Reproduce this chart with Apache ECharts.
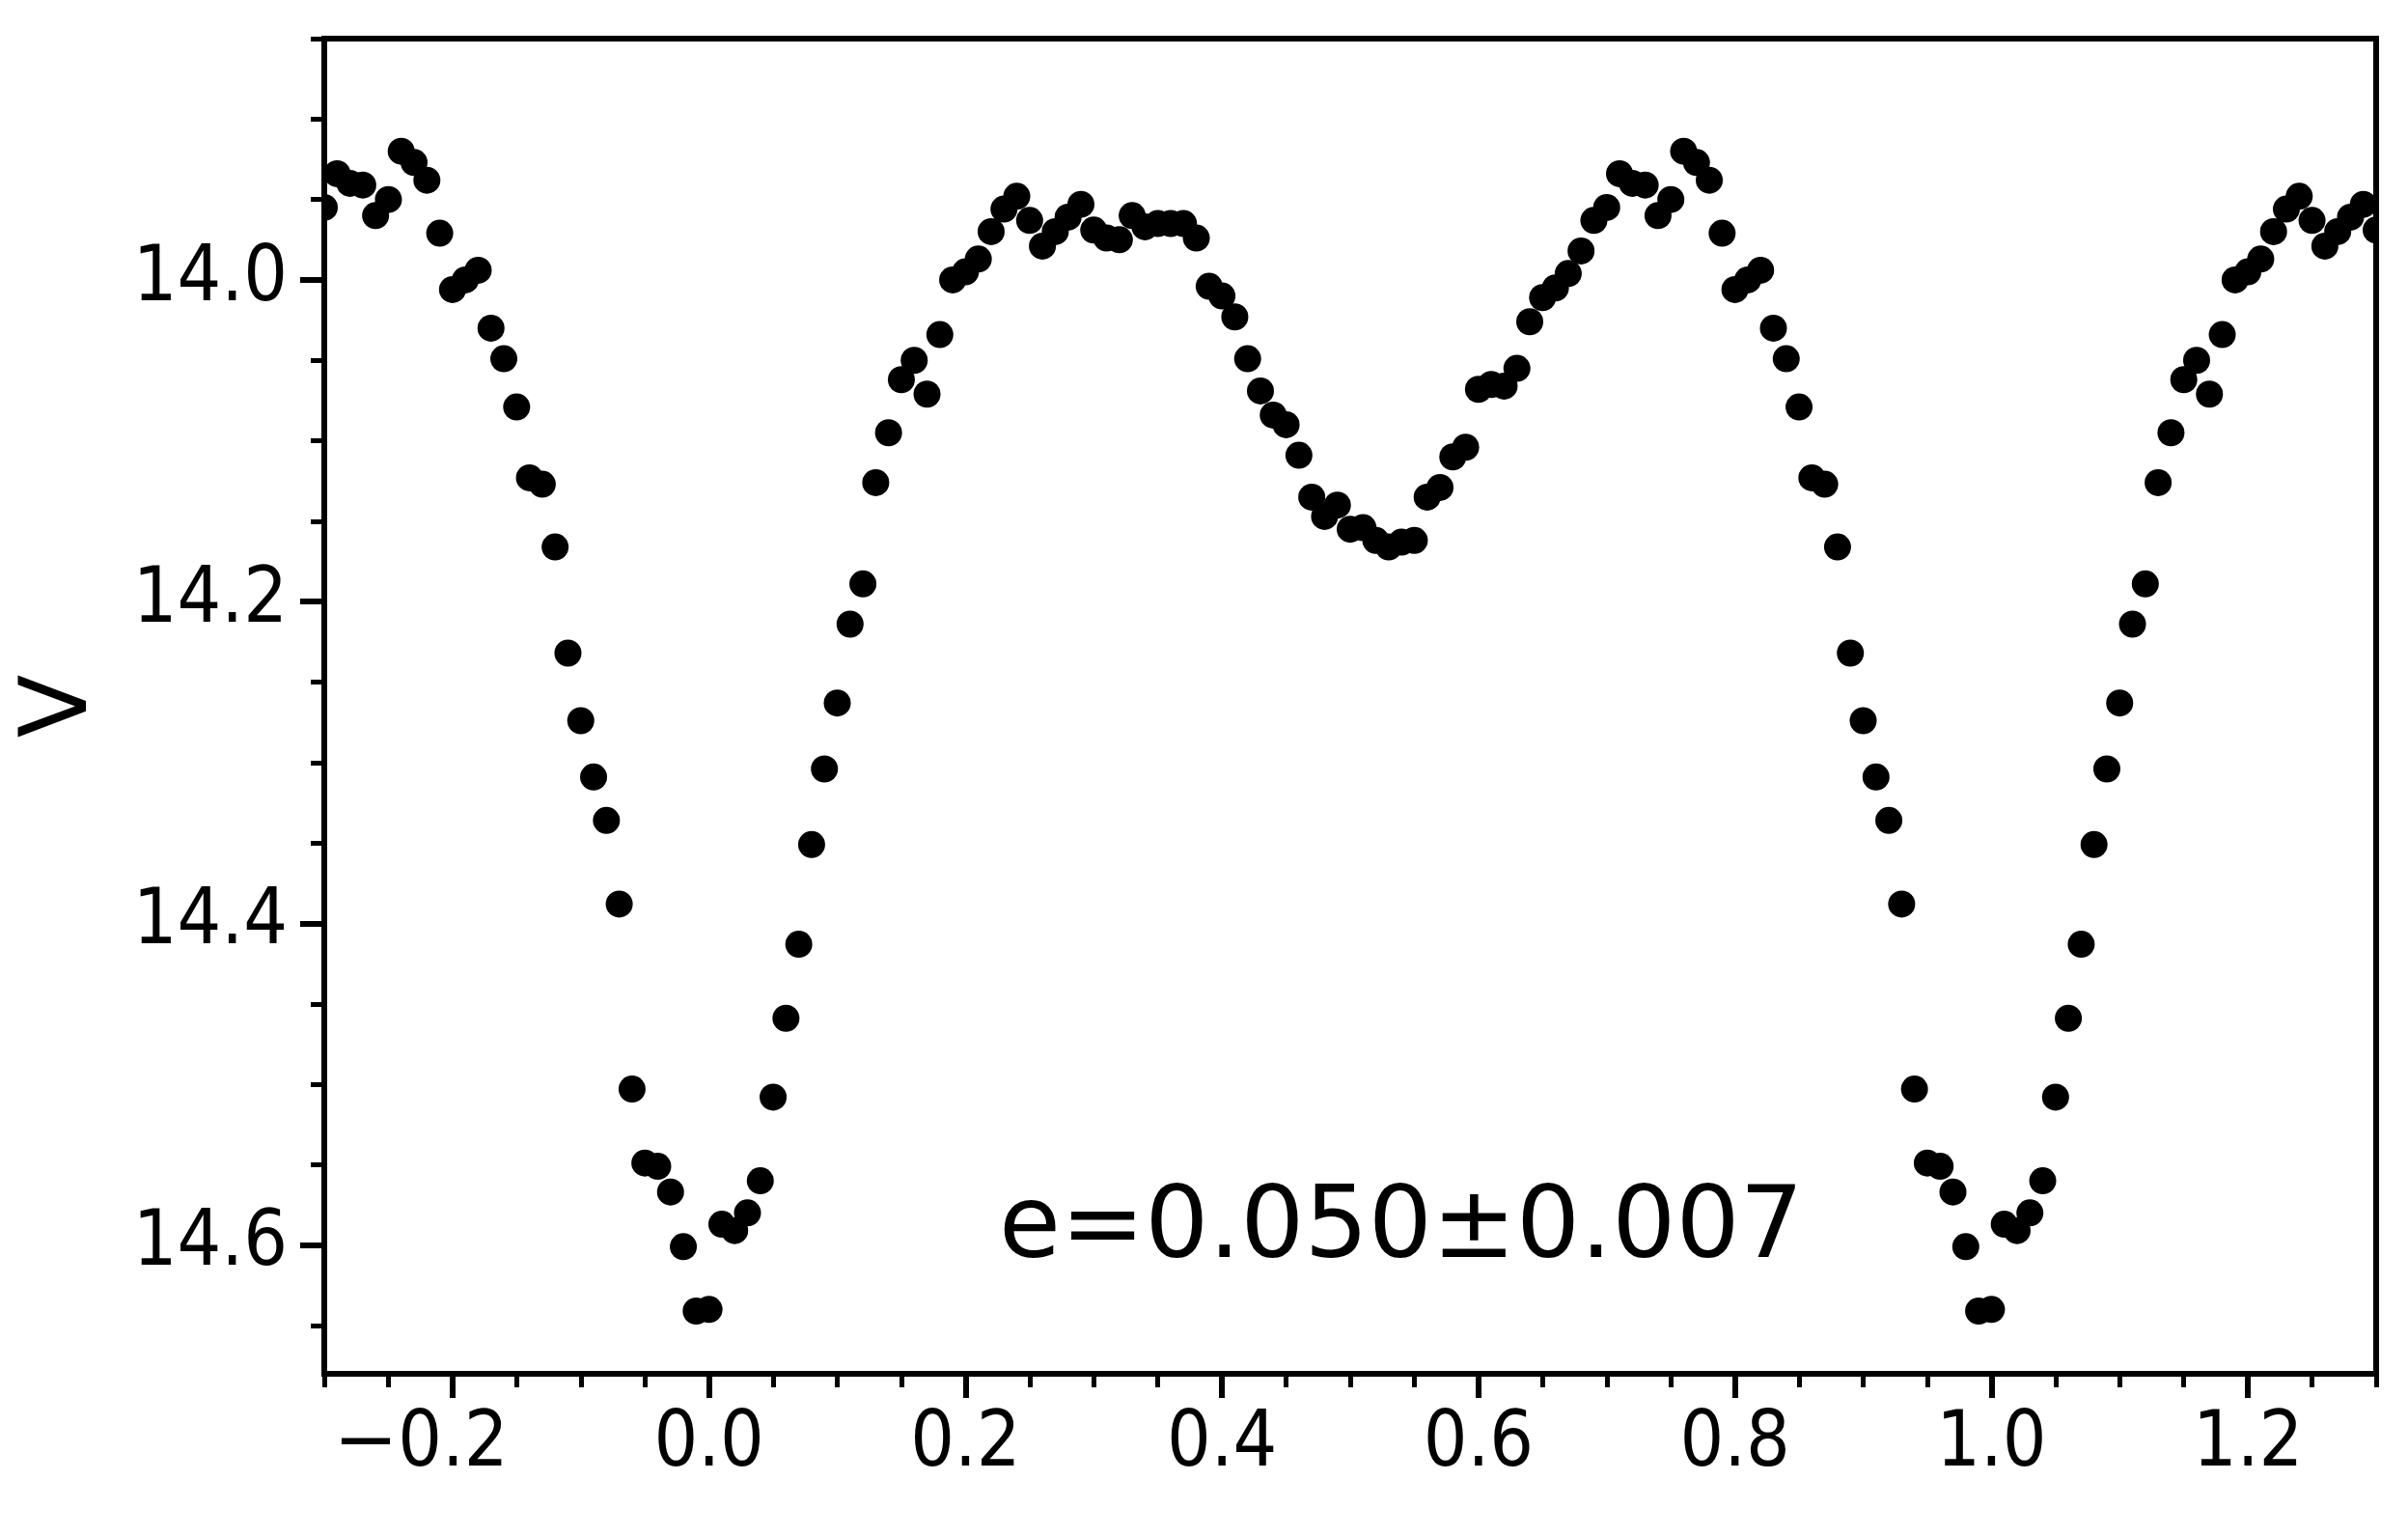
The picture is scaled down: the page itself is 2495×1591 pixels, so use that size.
<!DOCTYPE html>
<html>
<head>
<meta charset="utf-8">
<script src="https://cdn.jsdelivr.net/npm/echarts@6/dist/echarts.min.js"></script>
<style>
  html, body { margin: 0; padding: 0; background: #fff; }
  #chart { width: 2495px; height: 1591px; }
</style>
</head>
<body>
<div id="chart"></div>
<script>
// ---- data (orbital phase vs V magnitude) ----
const phase = [
  -0.30,-0.29,-0.28,-0.27,-0.26,-0.25,-0.24,-0.23,-0.22,-0.21,
  -0.20,-0.19,-0.18,-0.17,-0.16,-0.15,-0.14,-0.13,-0.12,-0.11,
  -0.10,-0.09,-0.08,-0.07,-0.06,-0.05,-0.04,-0.03,-0.02,-0.01,
  0.00,0.01,0.02,0.03,0.04,0.05,0.06,0.07,0.08,0.09,
  0.10,0.11,0.12,0.13,0.14,0.15,0.16,0.17,0.18,0.19,
  0.20,0.21,0.22,0.23,0.24,0.25,0.26,0.27,0.28,0.29,
  0.30,0.31,0.32,0.33,0.34,0.35,0.36,0.37,0.38,0.39,
  0.40,0.41,0.42,0.43,0.44,0.45,0.46,0.47,0.48,0.49,
  0.50,0.51,0.52,0.53,0.54,0.55,0.56,0.57,0.58,0.59,
  0.60,0.61,0.62,0.63,0.64,0.65,0.66,0.67,0.68,0.69,
  0.70,0.71,0.72,0.73,0.74,0.75,0.76,0.77,0.78,0.79,
  0.80,0.81,0.82,0.83,0.84,0.85,0.86,0.87,0.88,0.89,
  0.90,0.91,0.92,0.93,0.94,0.95,0.96,0.97,0.98,0.99,
  1.00,1.01,1.02,1.03,1.04,1.05,1.06,1.07,1.08,1.09,
  1.10,1.11,1.12,1.13,1.14,1.15,1.16,1.17,1.18,1.19,
  1.20,1.21,1.22,1.23,1.24,1.25,1.26,1.27,1.28,1.29,
  1.30
];
const vMag = [
  13.955,13.934,13.940,13.941,13.960,13.950,13.920,13.927,13.938,13.971,
  14.006,14.000,13.994,14.030,14.049,14.079,14.123,14.127,14.166,14.232,
  14.274,14.309,14.336,14.388,14.503,14.549,14.551,14.567,14.601,14.641,
  14.640,14.587,14.591,14.580,14.560,14.508,14.459,14.413,14.351,14.304,
  14.263,14.214,14.189,14.126,14.095,14.062,14.050,14.071,14.034,14.000,
  13.995,13.987,13.970,13.956,13.948,13.963,13.979,13.970,13.961,13.953,
  13.969,13.974,13.975,13.960,13.967,13.965,13.965,13.965,13.974,14.004,
  14.010,14.023,14.049,14.069,14.084,14.090,14.109,14.135,14.147,14.140,
  14.155,14.154,14.162,14.166,14.163,14.162,14.135,14.129,14.110,14.104,
  14.068,14.065,14.066,14.055,14.026,14.011,14.005,13.996,13.982,13.963,
  13.955,13.934,13.940,13.941,13.960,13.950,13.920,13.927,13.938,13.971,
  14.006,14.000,13.994,14.030,14.049,14.079,14.123,14.127,14.166,14.232,
  14.274,14.309,14.336,14.388,14.503,14.549,14.551,14.567,14.601,14.641,
  14.640,14.587,14.591,14.580,14.560,14.508,14.459,14.413,14.351,14.304,
  14.263,14.214,14.189,14.126,14.095,14.062,14.050,14.071,14.034,14.000,
  13.995,13.987,13.970,13.956,13.948,13.963,13.979,13.970,13.961,13.953,
  13.969
];
const xMajorTicks = [-0.2, 0.0, 0.2, 0.4, 0.6, 0.8, 1.0, 1.2];
const xMinorTicks = [-0.3,-0.25,-0.15,-0.1,-0.05,0.05,0.1,0.15,0.25,0.3,0.35,0.45,0.5,0.55,0.65,0.7,0.75,0.85,0.9,0.95,1.05,1.1,1.15,1.25,1.3];
const yMajorTicks = [14.0, 14.2, 14.4, 14.6];
const yMinorTicks = [13.85,13.9,13.95,14.05,14.1,14.15,14.25,14.3,14.35,14.45,14.5,14.55,14.65];
const xRange = [-0.3, 1.3];
const yRange = [13.85, 14.68];
const yTitle = 'V';
const annotation = 'e=0.050\u00b10.007';

const points = phase.map((p, i) => [p, vMag[i]]);

const tickFont = "'DejaVu Sans Condensed', 'DejaVu Sans', sans-serif";
const mainFont = "'DejaVu Sans', sans-serif";
const markerRadius = 14;

const chart = echarts.init(document.getElementById('chart'), null, { renderer: 'canvas', devicePixelRatio: 1 });

chart.setOption({
  animation: false,
  backgroundColor: '#ffffff',
  grid: {
    left: 336, right: 33, top: 40, bottom: 168,
    containLabel: false, outerBoundsMode: 'none',
    show: true, borderColor: '#000', borderWidth: 6, backgroundColor: 'transparent'
  },
  xAxis: [
    {
      type: 'value', min: xRange[0], max: xRange[1], position: 'bottom', z: 5,
      axisLine: { show: true, onZero: false, lineStyle: { color: '#000', width: 6 } },
      axisTick: { show: true, customValues: xMajorTicks, length: 25, lineStyle: { color: '#000', width: 6 } },
      axisLabel: {
        show: true, customValues: xMajorTicks, margin: 34,
        fontSize: 80, fontFamily: tickFont, color: '#000',
        formatter: v => v < 0 ? '{m|\u2212}{n|' + Math.abs(v).toFixed(1) + '}' : v.toFixed(1),
        rich: {
          m: { fontSize: 80, fontFamily: mainFont, color: '#000' },
          n: { fontSize: 80, fontFamily: tickFont, color: '#000', padding: [0, 66, 0, 0] }
        }
      },
      splitLine: { show: false }
    },
    {
      type: 'value', min: xRange[0], max: xRange[1], position: 'bottom', offset: 0,
      axisLine: { show: false, onZero: false },
      axisTick: { show: true, customValues: xMinorTicks, length: 14, lineStyle: { color: '#000', width: 5 } },
      axisLabel: { show: false },
      splitLine: { show: false }
    }
  ],
  yAxis: [
    {
      type: 'value', inverse: true, min: yRange[0], max: yRange[1], position: 'left', z: 5,
      name: yTitle, nameLocation: 'middle', nameRotate: 90, nameGap: 224, nameMoveOverlap: false,
      nameTextStyle: { fontSize: 96, fontFamily: mainFont, color: '#000' },
      axisLine: { show: true, onZero: false, lineStyle: { color: '#000', width: 6 } },
      axisTick: { show: true, customValues: yMajorTicks, length: 25, lineStyle: { color: '#000', width: 6 } },
      axisLabel: {
        show: true, customValues: yMajorTicks, margin: 38,
        fontSize: 80, fontFamily: tickFont, color: '#000',
        formatter: v => v.toFixed(1)
      },
      splitLine: { show: false }
    },
    {
      type: 'value', inverse: true, min: yRange[0], max: yRange[1], position: 'left', offset: 0,
      axisLine: { show: false, onZero: false },
      axisTick: { show: true, customValues: yMinorTicks, length: 14, lineStyle: { color: '#000', width: 5 } },
      axisLabel: { show: false },
      splitLine: { show: false }
    }
  ],
  series: [
    {
      type: 'custom', xAxisIndex: 0, yAxisIndex: 0,
      data: points, encode: { x: 0, y: 1 },
      clip: true,
      renderItem: function (params, api) {
        const c = api.coord([api.value(0), api.value(1)]);
        return {
          type: 'circle',
          shape: { cx: c[0], cy: c[1], r: markerRadius },
          style: { fill: '#000' }
        };
      }
    }
  ],
  graphic: [
    {
      type: 'text', x: 1035, y: 1275, silent: true,
      style: { text: annotation, fontSize: 104, fontFamily: mainFont, fill: '#000', align: 'left', verticalAlign: 'middle' }
    }
  ]
});
</script>
</body>
</html>
